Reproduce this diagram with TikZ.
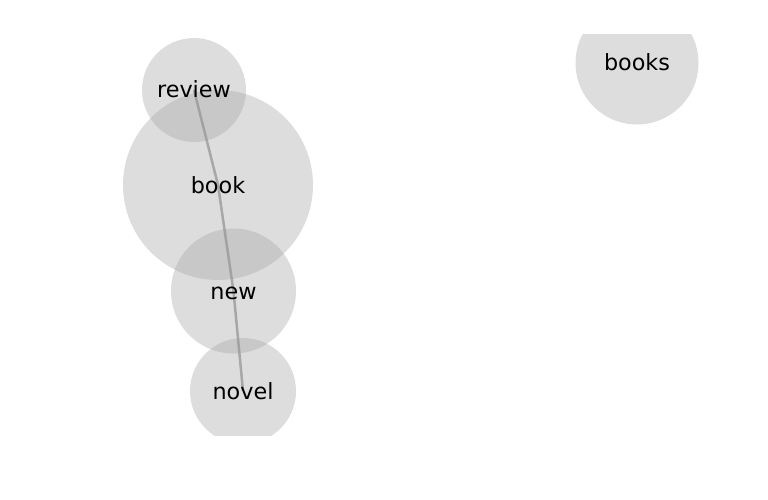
\documentclass[tikz,border=0pt]{standalone}
\usepackage{fontspec}
\setmainfont{DejaVu Sans}
\definecolor{bubblegray}{RGB}{165, 165, 165}
\definecolor{linkgray}{RGB}{150, 150, 150}
\usepackage{tikz}
\usetikzlibrary{positioning}

\begin{document}
\begin{tikzpicture}[
  x=1pt, y=-1pt,
  bubble/.style={circle, fill=bubblegray, fill opacity=0.38, inner sep=0pt},
  link/.style={draw=linkgray, line width=2.5pt, draw opacity=0.75},
  word/.style={font=\fontsize{22.3}{26}\selectfont, text=black, anchor=base, yshift=-8pt}
]
  \useasboundingbox (0,0) rectangle (768,500);
  \begin{scope}
    \clip (0,35) rectangle (768,435);
    \node[bubble, minimum size=104pt] (review) at (194, 90) {};
    \node[bubble, minimum size=190pt] (book) at (218, 185) {};
    \node[bubble, minimum size=125pt] (new) at (233.5, 291) {};
    \node[bubble, minimum size=106pt] (novel) at (243, 391) {};
    \node[bubble, minimum size=123pt] (books) at (637, 63) {};
  \end{scope}
  \draw[link] (review.center) -- (book.center) -- (new.center) -- (novel.center);
  \node[word] at (review) {review};
  \node[word] at (book) {book};
  \node[word] at (new) {new};
  \node[word] at (novel) {novel};
  \node[word] at (books) {books};
\end{tikzpicture}
\end{document}
